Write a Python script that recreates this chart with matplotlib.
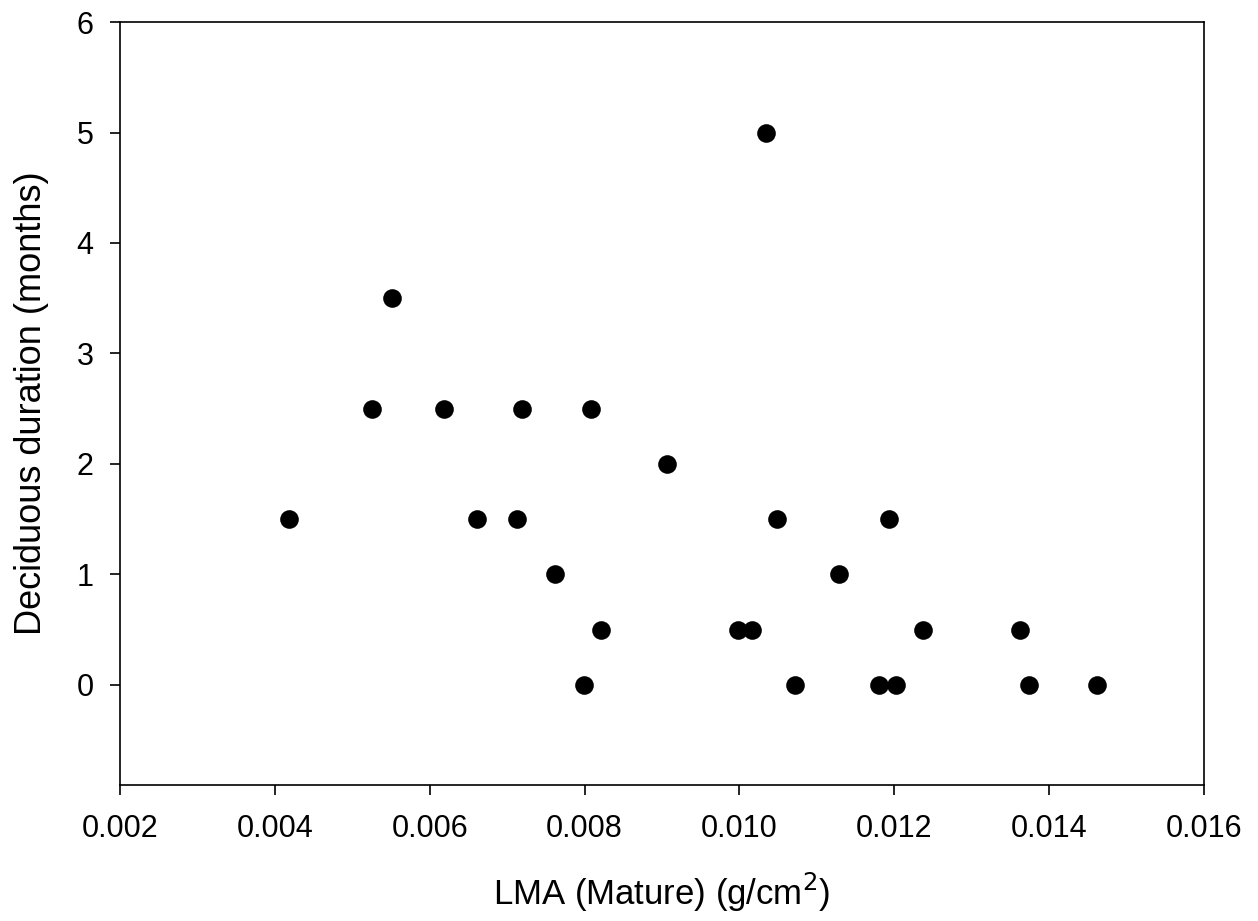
import matplotlib
matplotlib.use('Agg')
import matplotlib.pyplot as plt

plt.rcParams['font.family'] = ['Liberation Sans', 'DejaVu Sans']

# LMA (mature) vs deciduous duration
lma = [0.00418, 0.00526, 0.00551, 0.00618, 0.00661, 0.00713, 0.00719,
       0.00762, 0.00799, 0.00808, 0.00821, 0.00906, 0.00998, 0.01016,
       0.01034, 0.01048, 0.01072, 0.01129, 0.01180, 0.01193, 0.01202,
       0.01237, 0.01362, 0.01374, 0.01462]
duration = [1.5, 2.5, 3.5, 2.5, 1.5, 1.5, 2.5,
            1.0, 0.0, 2.5, 0.5, 2.0, 0.5, 0.5,
            5.0, 1.5, 0.0, 1.0, 0.0, 1.5, 0.0,
            0.5, 0.5, 0.0, 0.0]

xticks = [0.002, 0.004, 0.006, 0.008, 0.010, 0.012, 0.014, 0.016]
yticks = [0, 1, 2, 3, 4, 5, 6]

fig = plt.figure(figsize=(12.58, 9.21), dpi=100)
ax = fig.add_axes([0.0954, 0.1477, 0.8617, 0.8284])

ax.scatter(lma, duration, s=180, color='black', zorder=3, linewidths=0)

ax.set_xlim(0.002, 0.016)
ax.set_ylim(-0.905, 6)
ax.set_xticks(xticks)
ax.set_xticklabels(['%.3f' % t for t in xticks])
ax.set_yticks(yticks)

for s in ax.spines.values():
    s.set_linewidth(1.2)
ax.tick_params(direction='out', length=7, width=1.2, labelsize=22,
               top=False, right=False)
ax.tick_params(axis='x', pad=14)
ax.tick_params(axis='y', pad=12)

ax.set_xlabel('LMA (Mature) (g/cm$^2$)', fontsize=25, labelpad=19)
ax.set_ylabel('Deciduous duration (months)', fontsize=26, labelpad=20)

fig.savefig('out.png', dpi=100)
